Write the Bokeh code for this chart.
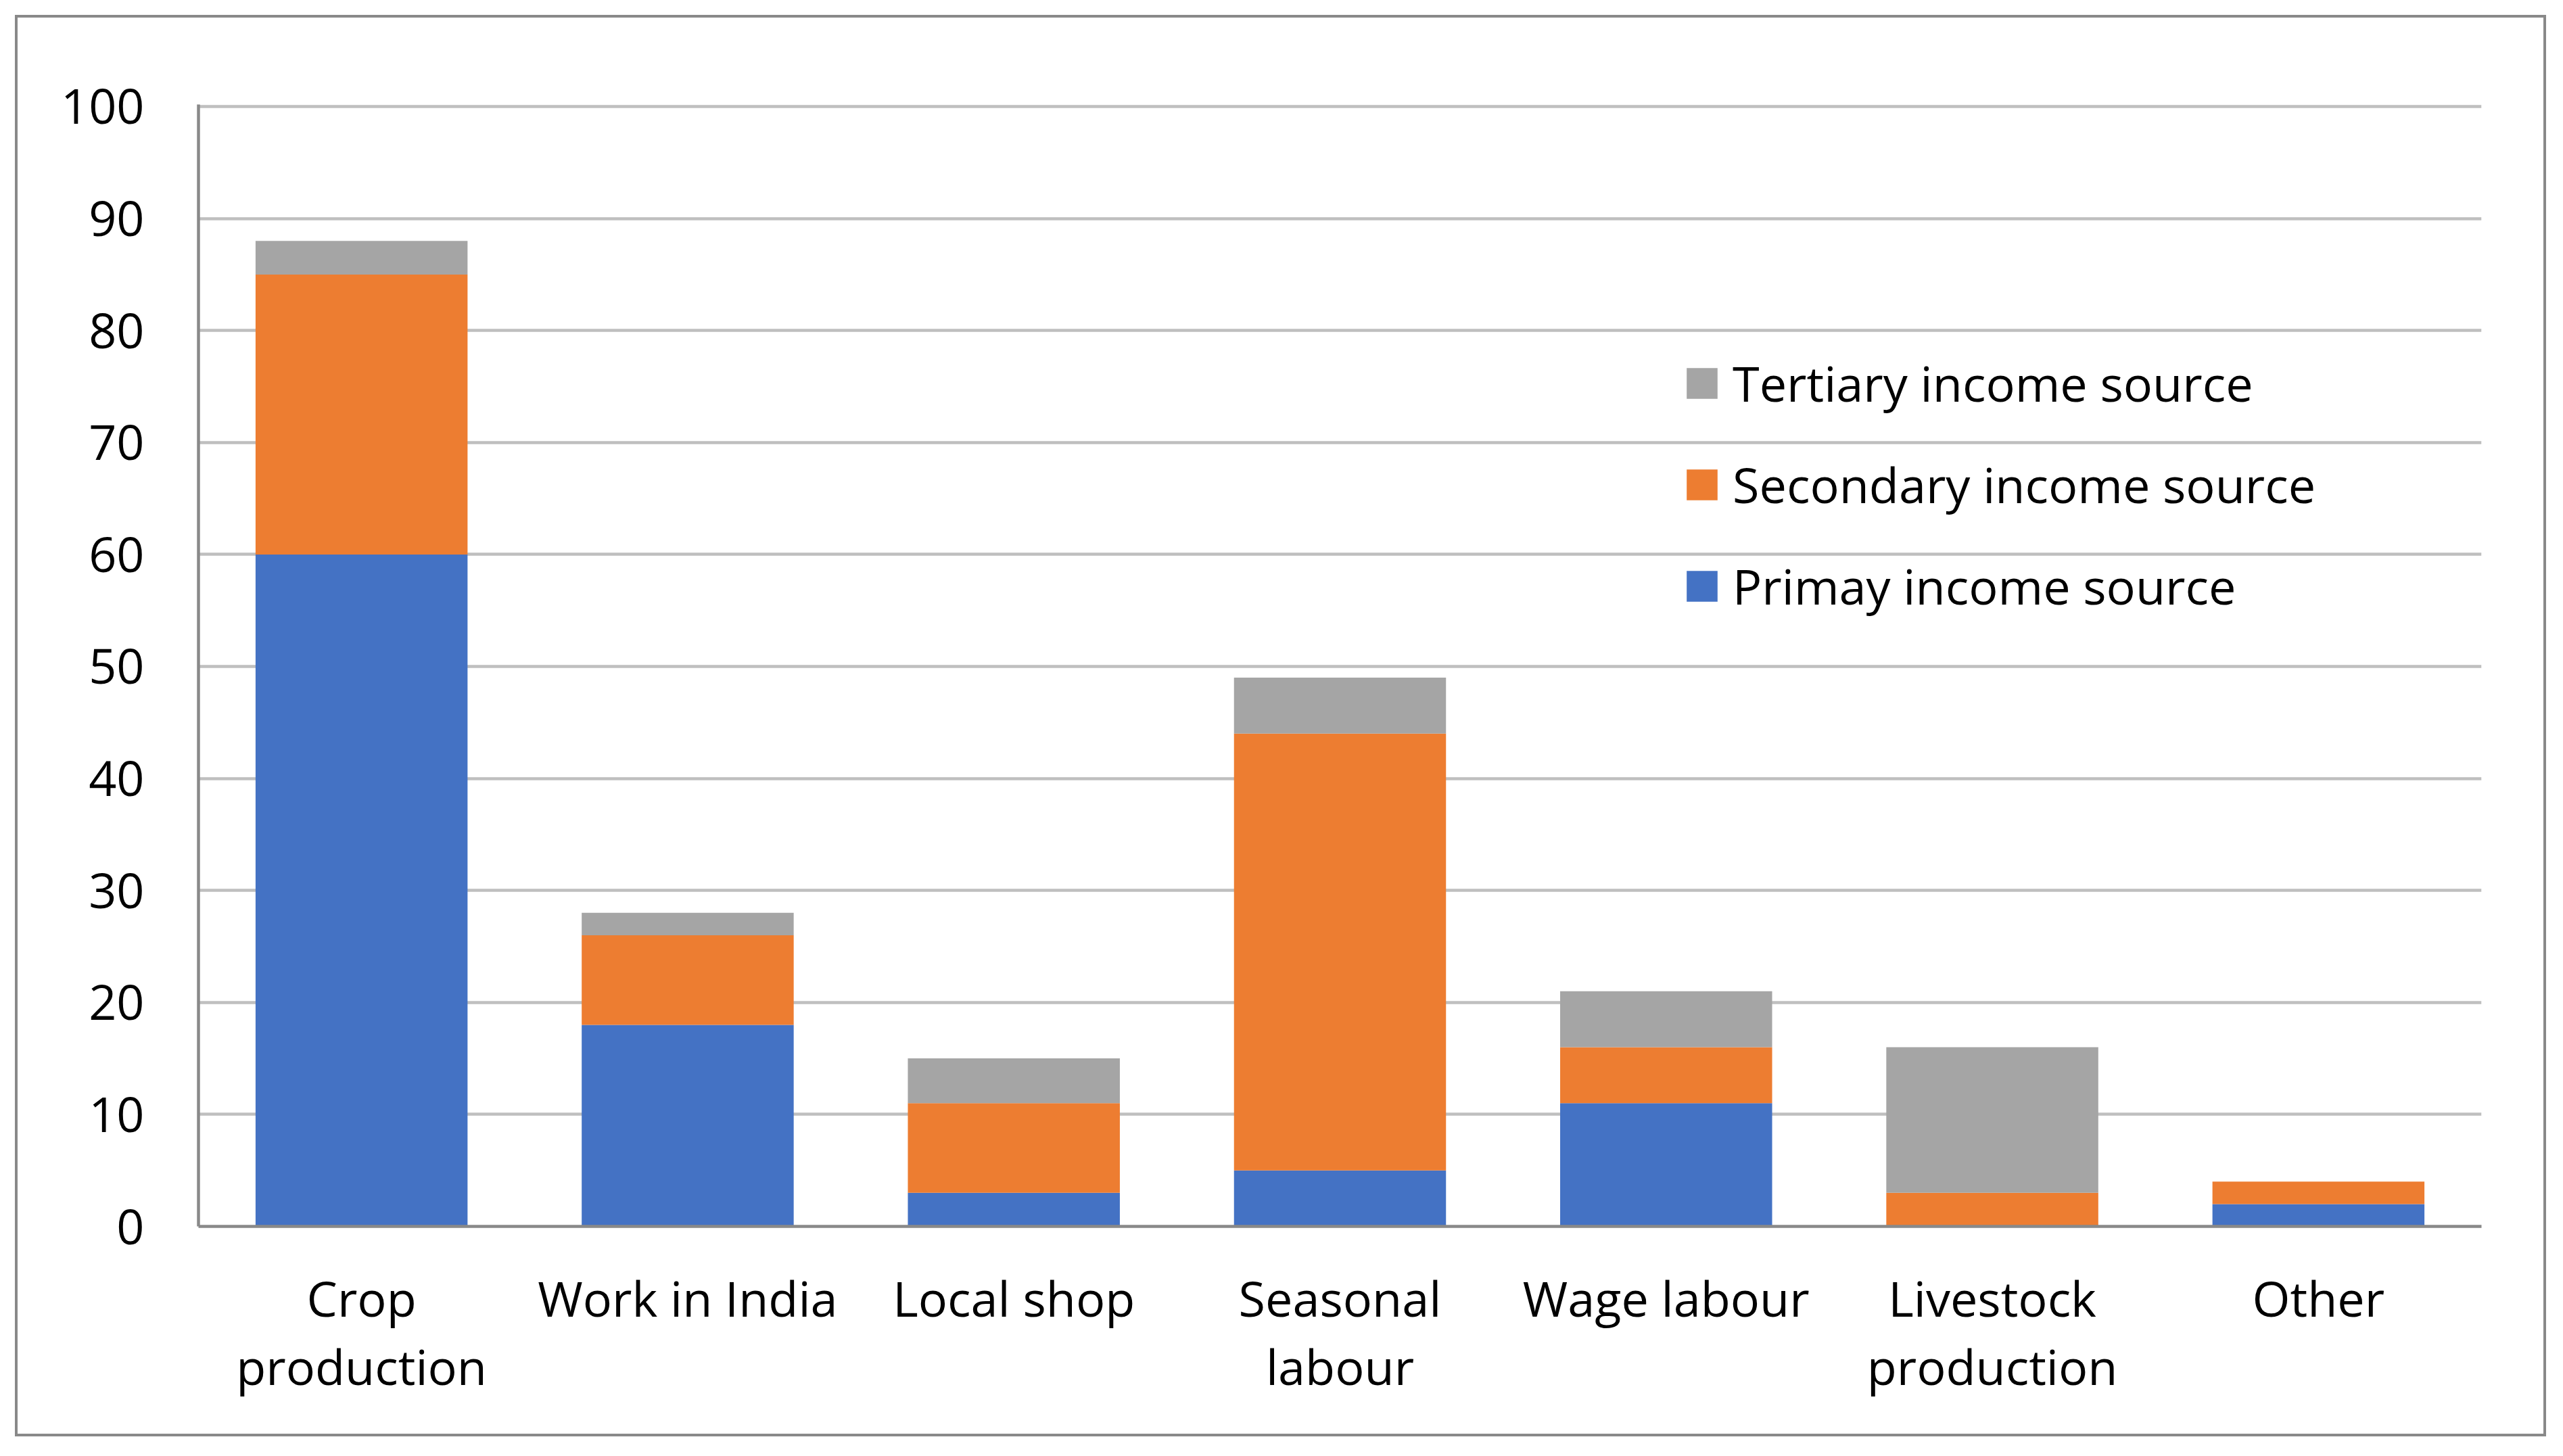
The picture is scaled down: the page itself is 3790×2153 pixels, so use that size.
from bokeh.plotting import figure
from bokeh.models import FactorRange, Range1d, FixedTicker, Legend, LegendItem, ColumnDataSource
from bokeh.embed import file_html
from bokeh.resources import INLINE

categories = ["Crop production", "Work in India", "Local shop", "Seasonal labour",
              "Wage labour", "Livestock production", "Other"]
tick_labels = ["Crop\nproduction", "Work in India", "Local shop", "Seasonal\nlabour",
               "Wage labour", "Livestock\nproduction", "Other"]
primary = [60, 18, 3, 5, 11, 0, 2]
secondary = [25, 8, 8, 39, 5, 3, 2]
tertiary = [3, 2, 4, 5, 5, 13, 0]
series_keys = ["primary", "secondary", "tertiary"]
series_names = ["Primay income source", "Secondary income source", "Tertiary income source"]
colors = ["#4472C4", "#ED7D31", "#A5A5A5"]
y_ticks = [0, 10, 20, 30, 40, 50, 60, 70, 80, 90, 100]

W, H = 3787, 2146
FONT = "Open Sans"
FS = "72px"

p = figure(x_range=FactorRange(*tick_labels, range_padding=0), y_range=Range1d(0, 100.18),
           width=W, height=H, output_backend="svg", toolbar_location=None,
           min_border_left=293, min_border_right=W - 3669,
           min_border_top=154, min_border_bottom=H - 1813)
p.background_fill_color = "white"
p.border_fill_color = None
p.outline_line_color = None
# outer chart border (drawn by the page behind the transparent canvas border)
p.styles = {"outline": "4px solid #898989", "outline-offset": "-26px", "background-color": "white"}

source = ColumnDataSource(dict(cat=tick_labels, primary=primary, secondary=secondary, tertiary=tertiary))
renderers = p.vbar_stack(series_keys, x="cat", width=0.65, fill_color=colors,
                         line_color=None, source=source)

# grid
p.xgrid.grid_line_color = None
p.ygrid.grid_line_color = "#BFBFBF"
p.ygrid.grid_line_width = 4.5
p.ygrid.ticker = FixedTicker(ticks=y_ticks)

# y axis
p.yaxis.ticker = FixedTicker(ticks=y_ticks)
p.yaxis.axis_line_color = "#898989"
p.yaxis.axis_line_width = 4.5
p.yaxis.major_tick_line_color = None
p.yaxis.minor_tick_line_color = None
p.yaxis.major_tick_out = 0
p.yaxis.major_tick_in = 0
p.yaxis.major_label_standoff = 80
p.yaxis.major_label_text_font = FONT
p.yaxis.major_label_text_font_size = FS
p.yaxis.major_label_text_color = "black"

# x axis
p.xaxis.axis_line_color = "#898989"
p.xaxis.axis_line_width = 4.5
p.xaxis.major_tick_line_color = None
p.xaxis.major_tick_out = 0
p.xaxis.major_tick_in = 0
p.xaxis.major_label_standoff = 56
p.xaxis.major_label_text_font = FONT
p.xaxis.major_label_text_font_size = FS
p.xaxis.major_label_text_color = "black"
p.xaxis.major_label_text_line_height = 1.04

items = [LegendItem(label=series_names[i], renderers=[renderers[i]]) for i in (2, 1, 0)]
legend = Legend(items=items, location=(2195, 898), orientation="vertical",
                glyph_width=57, glyph_height=57, label_standoff=17, spacing=52,
                padding=0, margin=0, border_line_color=None, background_fill_alpha=0,
                label_text_font=FONT, label_text_font_size=FS, label_text_color="black")
p.add_layout(legend)

open("out.html", "w").write(file_html(p, INLINE))
